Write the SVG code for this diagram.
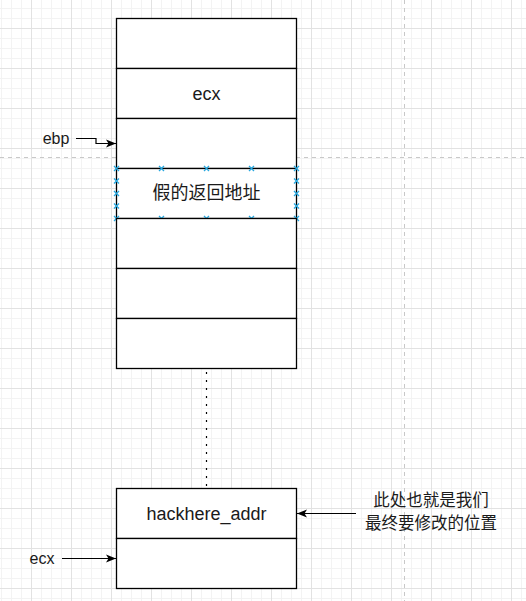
<svg xmlns="http://www.w3.org/2000/svg" width="526" height="601" viewBox="0 0 526 601">
<defs>
<pattern id="minor" width="10" height="10" patternUnits="userSpaceOnUse" x="1" y="8">
<path d="M0 0.5H10M0.5 0V10" fill="none" stroke="#f3f3f3" stroke-width="1"/>
</pattern>
<pattern id="major" width="40" height="40" patternUnits="userSpaceOnUse" x="31" y="28">
<path d="M0 0.5H40M0.5 0V40" fill="none" stroke="#e2e2e2" stroke-width="1"/>
</pattern>
<marker id="arr" viewBox="0 0 10 10" refX="10" refY="5" markerWidth="10" markerHeight="10" markerUnits="userSpaceOnUse" orient="auto">
<path d="M0 1L10 5L0 9L2.5 5Z" fill="#000"/>
</marker>
<g id="hx"><path d="M-2.5 -2.5L2.5 2.5M-2.5 2.5L2.5 -2.5" stroke="#29a8e0" stroke-width="1.3"/></g>
</defs>
<style>
.cell{fill:#fff;stroke:#000;stroke-width:1.3}
.t{font-family:"Liberation Sans","Noto Sans CJK SC",Arial,sans-serif;font-size:18px;fill:#1a1a1a;text-anchor:middle}
.tl{font-family:"Liberation Sans","Noto Sans CJK SC",Arial,sans-serif;font-size:16px;fill:#1a1a1a;text-anchor:middle}
.cn{font-family:"Liberation Sans","Noto Sans CJK SC",sans-serif;font-size:16.5px;fill:#1a1a1a;text-anchor:middle}
.cm{font-family:"Noto Sans CJK SC","Liberation Sans",sans-serif;font-size:18px;fill:#1a1a1a;text-anchor:middle}
.ln{fill:none;stroke:#000;stroke-width:1.2}
</style>
<rect width="526" height="601" fill="#fff"/>
<rect width="526" height="601" fill="url(#minor)"/>
<rect width="526" height="601" fill="url(#major)"/>
<path d="M0 157.5H526M404.5 0V601" stroke="#c8c8c8" stroke-width="1" stroke-dasharray="4 4" fill="none"/>

<g id="stack">
<g id="cell0"><rect class="cell" x="116.5" y="18.5" width="180" height="50"/></g>
<g id="cell1"><rect class="cell" x="116.5" y="68.5" width="180" height="50"/><text class="t" x="206.5" y="100">ecx</text></g>
<g id="cell2"><rect class="cell" x="116.5" y="118.5" width="180" height="50"/></g>
<g id="cell3"><rect class="cell" x="116.5" y="168.5" width="180" height="50"/><text class="cm" x="206.5" y="199">假的返回地址</text>
<use href="#hx" x="116.5" y="168.5"/><use href="#hx" x="161.5" y="168.5"/><use href="#hx" x="206.5" y="168.5"/><use href="#hx" x="251.5" y="168.5"/><use href="#hx" x="296.5" y="168.5"/>
<use href="#hx" x="116.5" y="218.5"/><use href="#hx" x="161.5" y="218.5"/><use href="#hx" x="206.5" y="218.5"/><use href="#hx" x="251.5" y="218.5"/><use href="#hx" x="296.5" y="218.5"/>
<use href="#hx" x="116.5" y="181"/><use href="#hx" x="116.5" y="193.5"/><use href="#hx" x="116.5" y="206"/>
<use href="#hx" x="296.5" y="181"/><use href="#hx" x="296.5" y="193.5"/><use href="#hx" x="296.5" y="206"/>
</g>
<g id="cell4"><rect class="cell" x="116.5" y="218.5" width="180" height="50"/></g>
<g id="cell5"><rect class="cell" x="116.5" y="268.5" width="180" height="50"/></g>
<g id="cell6"><rect class="cell" x="116.5" y="318.5" width="180" height="50"/></g>
</g>

<g id="bottom">
<g id="cell7"><rect class="cell" x="116.5" y="488.5" width="180" height="50"/><text class="t" x="206.5" y="520">hackhere_addr</text></g>
<g id="cell8"><rect class="cell" x="116.5" y="538.5" width="180" height="50"/></g>
</g>

<g id="lbl-ebp"><text class="tl" x="56" y="144">ebp</text></g>
<g id="lbl-ecx"><text class="tl" x="42" y="564">ecx</text></g>
<g id="lbl-note"><text class="cn" x="431" y="506">此处也就是我们</text><text class="cn" x="431" y="529">最终要修改的位置</text></g>

<g id="connectors">
<path class="ln" d="M206.5 372V488" stroke-width="2" stroke-dasharray="2 6"/>
<path class="ln" d="M76 138.5H96V143.5H116" marker-end="url(#arr)"/>
<path class="ln" d="M62 558.5H116" marker-end="url(#arr)"/>
<path class="ln" d="M356 513.5H297" marker-end="url(#arr)"/>
</g>
</svg>
